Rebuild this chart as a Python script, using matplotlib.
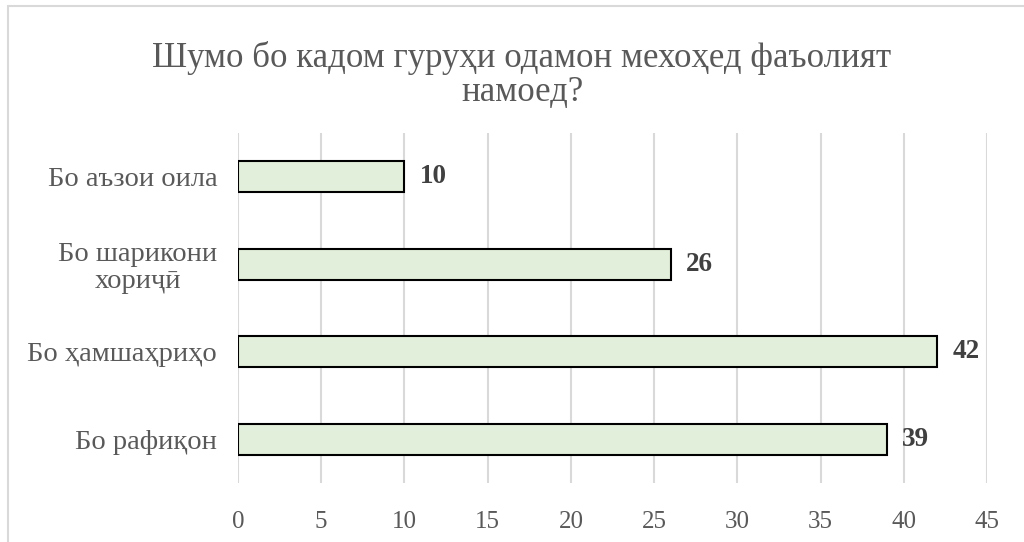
import matplotlib
matplotlib.use("Agg")
import matplotlib.pyplot as plt
from matplotlib.patches import Rectangle

plt.rcParams['font.family'] = ['Liberation Serif', 'DejaVu Serif']

categories = ["Бо аъзои оила", "Бо шарикони\nхориҷӣ", "Бо ҳамшаҳриҳо", "Бо рафиқон"]
values = [10, 26, 42, 39]
xticks = [0, 5, 10, 15, 20, 25, 30, 35, 40, 45]
title = "Шумо бо кадом гуруҳи одамон мехоҳед фаъолият\nнамоед?"

fig = plt.figure(figsize=(10.24, 5.42), dpi=100)
ax = fig.add_axes([238/1024, 1-483/542, (987-238)/1024, (483-133)/542])

pos = list(range(len(categories)))
ax.barh(pos, values, height=0.35, color="#E2EFDA", edgecolor="black", linewidth=1.5, zorder=3)
ax.set_ylim(len(categories)-0.5, -0.5)
ax.set_xlim(0, 45)
ax.set_xticks(xticks)
ax.set_xticklabels([str(t) for t in xticks])
ax.set_yticks(pos)
ax.set_yticklabels(categories, multialignment='center', linespacing=1.1)
ax.tick_params(axis='both', length=0, labelcolor="#595959")
ax.tick_params(axis='y', pad=15, labelsize=20.5)
ax.tick_params(axis='x', pad=20, labelsize=18)
ax.grid(axis='x', color="#D9D9D9", linewidth=1.5, zorder=0)
for s in ax.spines.values():
    s.set_visible(False)

for p, v in zip(pos, values):
    ax.annotate(str(v), (v, p), xytext=(11, 0), textcoords='offset points',
                va='center', ha='left', fontsize=19.5, fontweight='bold', color="#404040")

fig.text(522/1024, 1-75/542, title, ha='center', va='center', fontsize=25.1, color="#595959", linespacing=1.05)

fig.patches.append(Rectangle((8/1024, -0.1), 1.2, 1-6/542+0.1, transform=fig.transFigure,
                             fill=False, edgecolor="#D9D9D9", linewidth=1.5))

fig.savefig("out.png", dpi=100)
